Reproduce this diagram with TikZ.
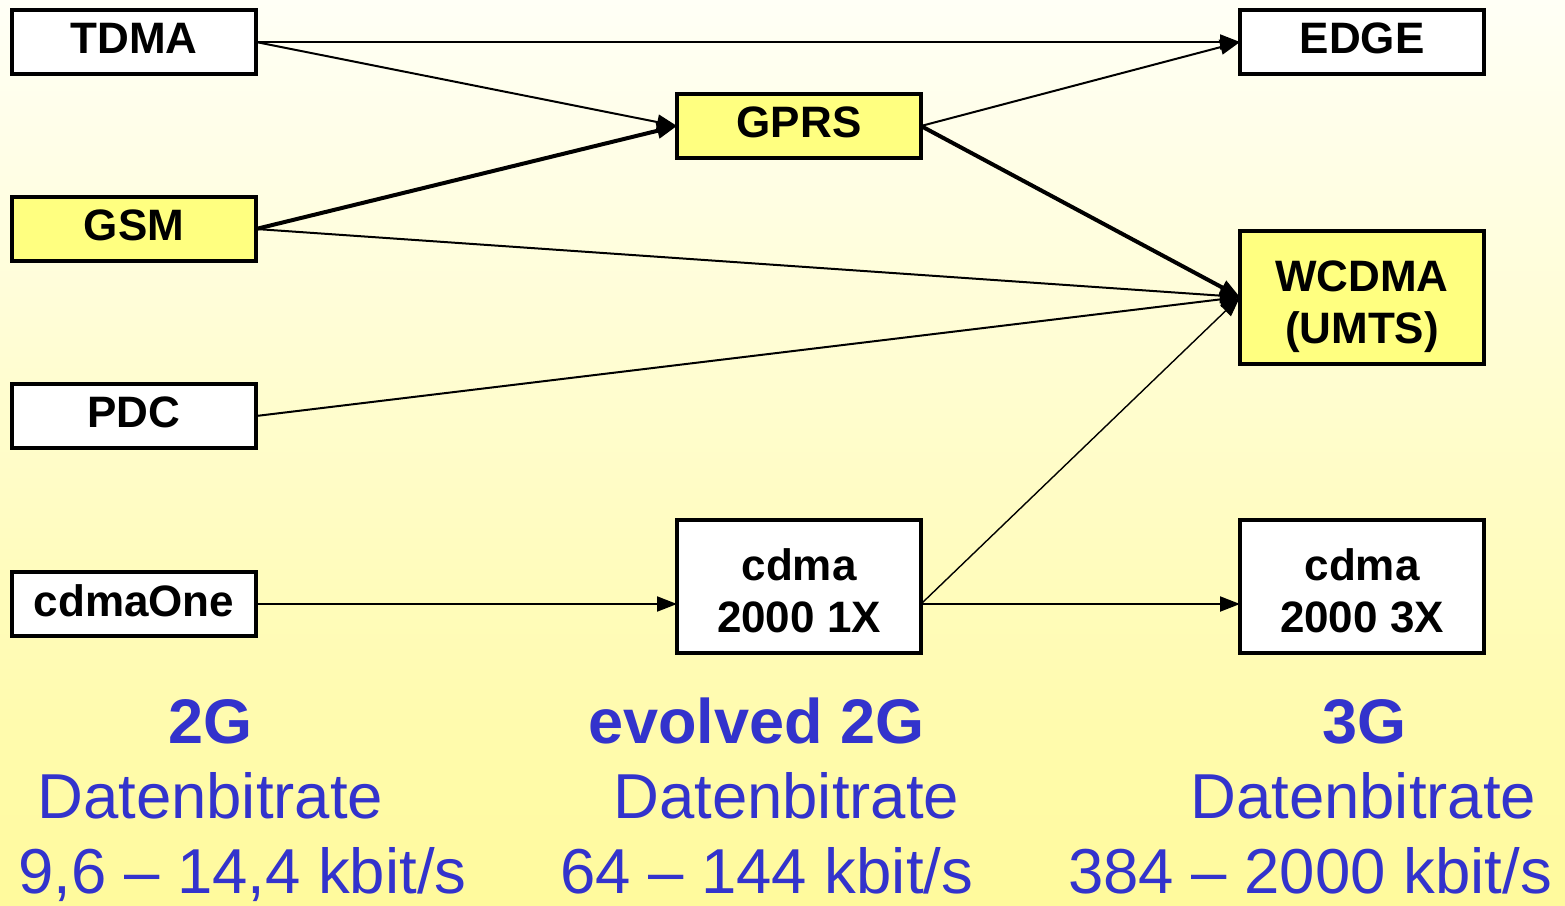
\documentclass[tikz,border=0pt]{standalone}
\usepackage{fontspec}
\setmainfont{Liberation Sans}
\usetikzlibrary{arrows.meta}
\definecolor{bgtop}{HTML}{FFFFF6}
\definecolor{bgbot}{HTML}{FFFA9C}
\definecolor{boxyellow}{HTML}{FFFF80}
\definecolor{labelblue}{HTML}{3333CC}
% two-line box label with fixed struts so every block sits alike
\newcommand{\boxlines}[2]{\rule{0pt}{51.5pt}#1\\#2\rule[-10pt]{0pt}{10pt}}
\tikzset{
  boxbase/.style={draw=black, line width=4pt, fill=white, minimum width=244pt,
    inner sep=0pt, outer sep=0pt, align=center,
    font=\fontsize{44}{52}\selectfont\bfseries},
  sysbox/.style={boxbase, minimum height=64pt, text depth=7pt},
  tallbox/.style={boxbase, minimum height=133pt},
  hilite/.style={fill=boxyellow},
  conn/.style={line width=2pt, -{Triangle[length=20pt,width=15pt]}},
  thickconn/.style={conn, line width=4pt},
  fineconn/.style={conn, line width=1.4pt},
  gen/.style={anchor=base west, text=labelblue, inner sep=0pt,
    font=\fontsize{63}{70}\selectfont\bfseries},
  rate/.style={anchor=base west, text=labelblue, inner sep=0pt,
    font=\fontsize{63.5}{70}\selectfont}
}
\begin{document}
\begin{tikzpicture}[x=1pt,y=-1pt]
\shade[top color=bgtop, bottom color=bgbot] (0,0) rectangle (1565,905);
\useasboundingbox (0,0) rectangle (1565,905);

% 2G systems
\node[sysbox] (tdma) at (134,42) {TDMA};
\node[sysbox,hilite] (gsm) at (134,229) {GSM};
\node[sysbox] (pdc) at (134,416) {PDC};
\node[sysbox] (cdmaone) at (134,604) {cdmaOne};

% evolved 2G
\node[sysbox,hilite] (gprs) at (799,126) {GPRS};
\node[tallbox] (c1x) at (799,586) {\boxlines{cdma}{2000 1X}};

% 3G
\node[sysbox] (edge) at (1362,42) {EDGE};
\node[tallbox,hilite] (wcdma) at (1362,297) {\boxlines{WCDMA}{(UMTS)}};
\node[tallbox] (c3x) at (1362,586) {\boxlines{cdma}{2000 3X}};

% migration paths
\draw[conn] (tdma.east) -- (edge.west);
\draw[conn] (tdma.east) -- (gprs.west);
\draw[thickconn] (gsm.east) -- (gprs.west);
\draw[conn] (gsm.east) -- (wcdma.west);
\draw[conn] (pdc.east) -- (wcdma.west);
\draw[conn] (gprs.east) -- (edge.west);
\draw[thickconn] (gprs.east) -- (wcdma.west);
\draw[conn] (cdmaone.east) -- (cdmaone.east -| c1x.west);
\coordinate (c1xout) at (cdmaone.east -| c1x.east);
\draw[conn] (c1xout) -- (c1xout -| c3x.west);
\draw[fineconn] (c1xout) -- (wcdma.west);

% generation captions
\node[gen] (g2) at (168,743) {2G};
\node[rate] (g2d) at (37,818) {Datenbitrate};
\node[rate] (g2r) at (18,893) {9,6 – 14,4 kbit/s};
\node[gen] (ge) at (588,743) {evolved 2G};
\node[rate] (ged) at (613,818) {Datenbitrate};
\node[rate] (ger) at (560,893) {64 – 144 kbit/s};
\node[gen] (g3) at (1322,743) {3G};
\node[rate] (g3d) at (1190,818) {Datenbitrate};
\node[rate] (g3r) at (1068,893) {384 – 2000 kbit/s};
\end{tikzpicture}
\end{document}
